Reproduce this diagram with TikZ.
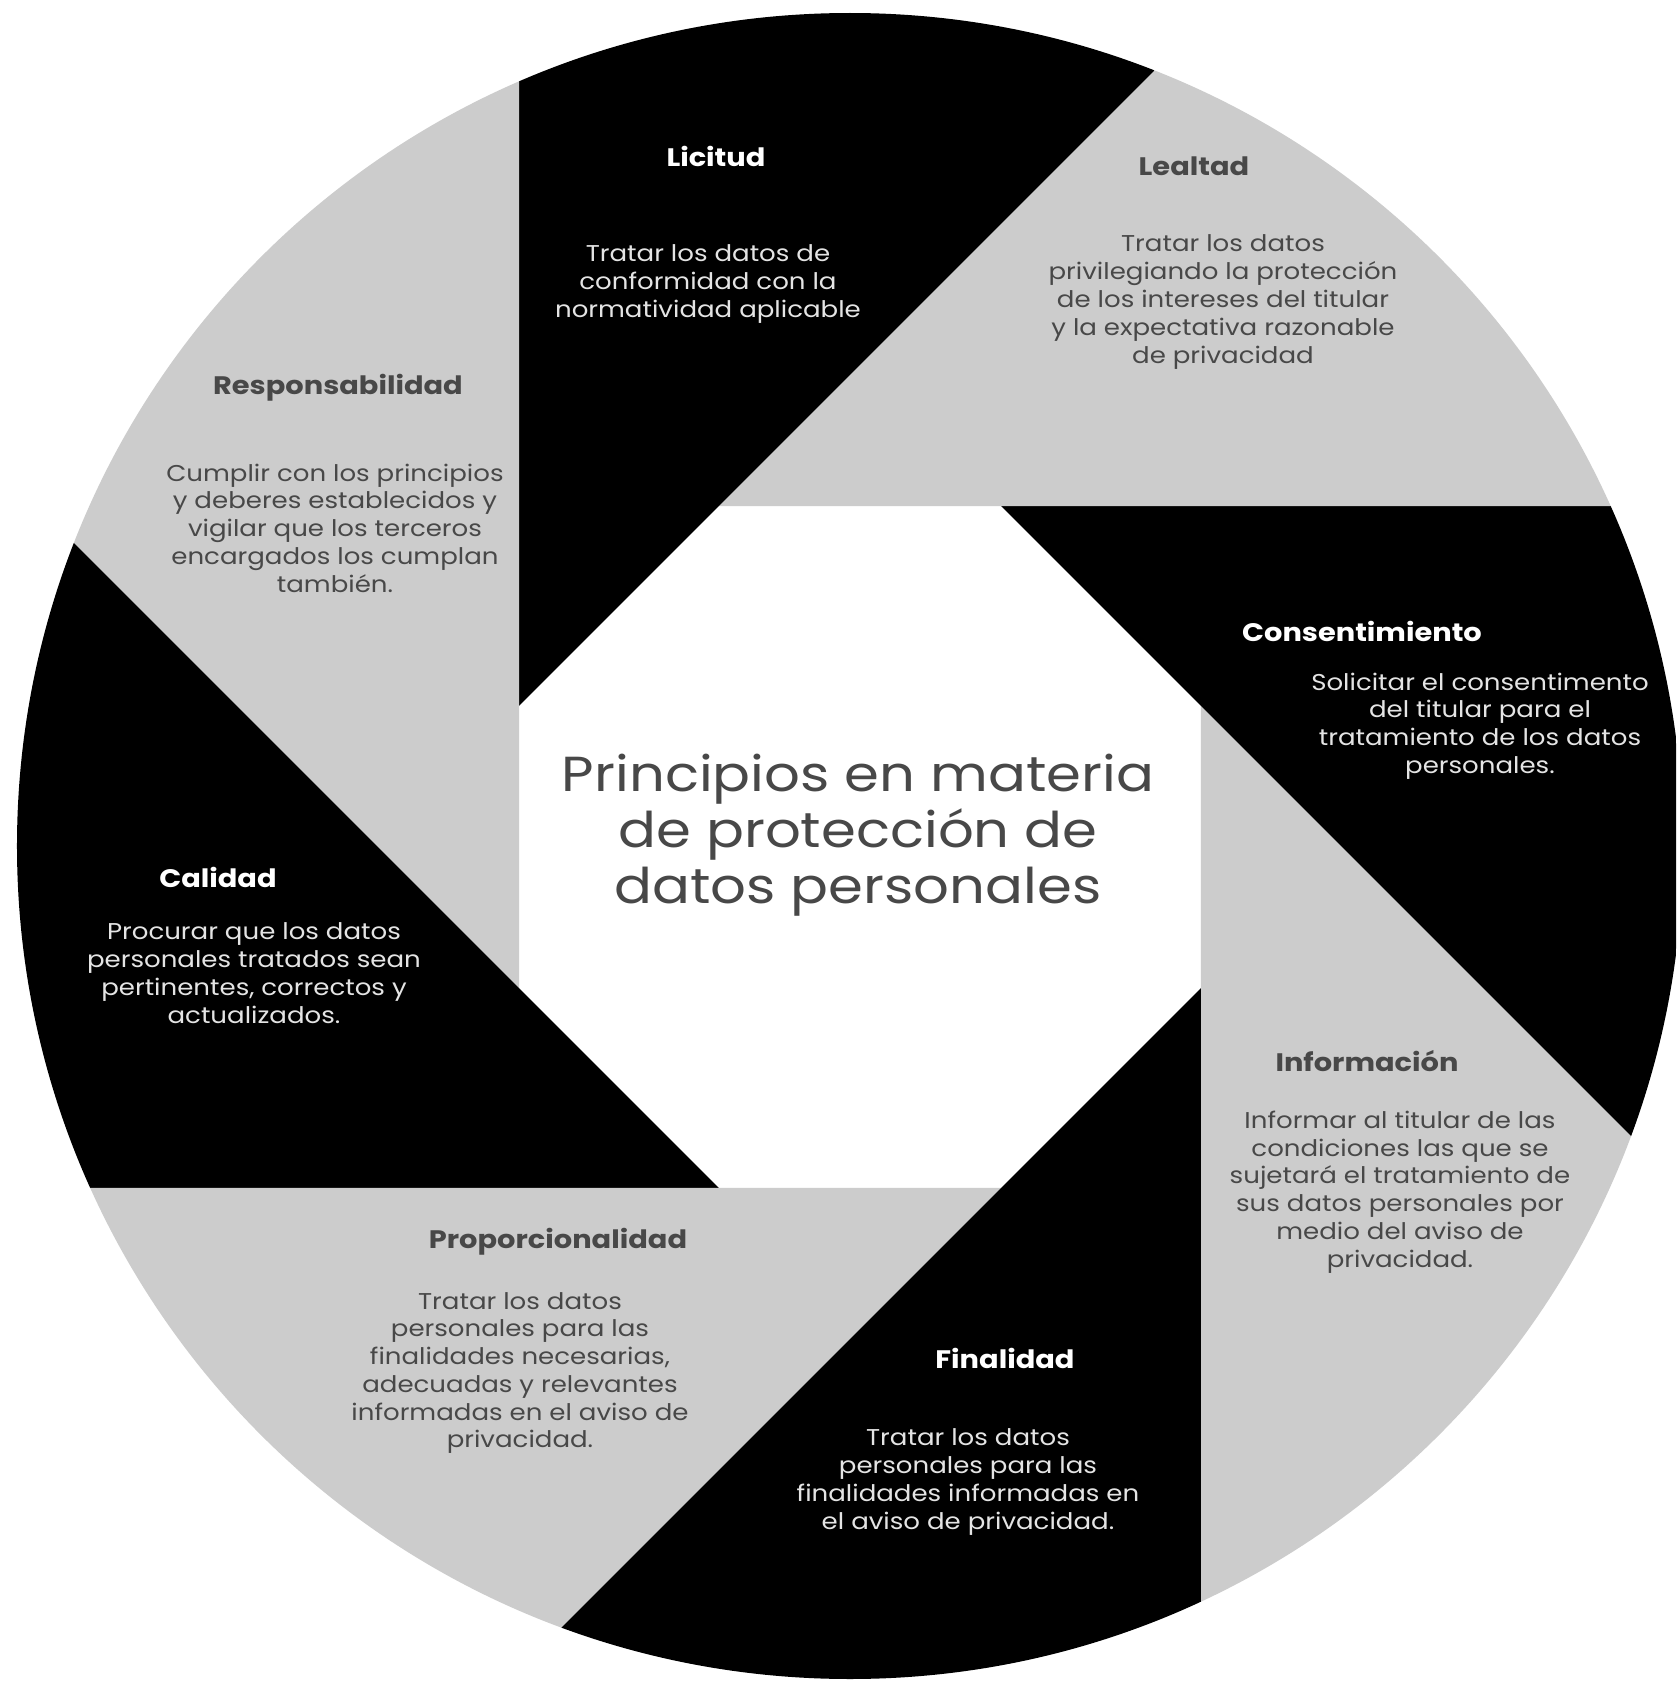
\documentclass[tikz,border=0pt]{standalone}
\usepackage{fontspec}
\setmainfont[FakeStretch=1.14]{Poppins}
\definecolor{bladegray}{RGB}{204,204,204}
\definecolor{inkdark}{RGB}{72,72,72}
\definecolor{inklight}{RGB}{228,228,228}
\tikzset{
  head/.style = {font=\bfseries\fontsize{7.2}{8}\selectfont, text=#1},
  body/.style = {align=center, font=\fontsize{6.5}{7.9}\selectfont, text=#1},
  centre/.style = {align=center, font=\fontsize{14}{15.9}\selectfont, text=inkdark}
}

\begin{document}
\begin{tikzpicture}
  \useasboundingbox (-8.60,-8.35) rectangle (8.16,8.47);
  \fill[white] (-8.60,-8.35) rectangle (8.16,8.47);
  % the eight blades of the aperture
  \begin{scope}
    \clip (-8.60,-8.35) rectangle (8.16,8.47);
    \clip (-0.10,0.01) circle (8.33);
    \foreach \k/\col in {0/bladegray,1/black,2/bladegray,3/black,
                         4/bladegray,5/black,6/bladegray,7/black}{
      \pgfmathsetmacro{\a}{22.5+45*\k}
      \fill[\col] (\a:3.691) -- +(\a-67.5:20) -- +(\a-112.5:20) -- cycle;
    }
  \end{scope}

  \node[centre] (centro) at (-0.02,0.12)
    {Principios en materia\\de protección de\\datos personales};

  \node[head=white] (licitud) at (-1.44,6.91) {Licitud};
  \node[body=inklight] (licitud-txt) at (-1.52,5.63)
    {Tratar los datos de\\conformidad con la\\normatividad aplicable};

  \node[head=inkdark] (lealtad) at (3.34,6.81) {Lealtad};
  \node[body=inkdark] (lealtad-txt) at (3.63,5.45)
    {Tratar los datos\\privilegiando la protección\\de los intereses del titular\\y la expectativa razonable\\de privacidad};

  \node[head=inkdark] (resp) at (-5.22,4.59) {Responsabilidad};
  \node[body=inkdark] (resp-txt) at (-5.25,3.19)
    {Cumplir con los principios\\y deberes establecidos y\\vigilar que los terceros\\encargados los cumplan\\también.};

  \node[head=white] (consent) at (5.02,2.16) {Consentimiento};
  \node[body=inklight] (consent-txt) at (6.20,1.21)
    {Solicitar el consentimento\\del titular para el\\tratamiento de los datos\\personales.};

  \node[head=white] (calidad) at (-6.42,-0.30) {Calidad};
  \node[body=inklight] (calidad-txt) at (-6.06,-1.26)
    {Procurar que los datos\\personales tratados sean\\pertinentes, correctos y\\actualizados.};

  \node[head=inkdark] (info) at (5.07,-2.14) {Información};
  \node[body=inkdark] (info-txt) at (5.40,-3.45)
    {Informar al titular de las\\condiciones las que se\\sujetará el tratamiento de\\sus datos personales por\\medio del aviso de\\privacidad.};

  \node[head=inkdark] (prop) at (-3.02,-3.95) {Proporcionalidad};
  \node[body=inkdark] (prop-txt) at (-3.40,-5.26)
    {Tratar los datos\\personales para las\\finalidades necesarias,\\adecuadas y relevantes\\informadas en el aviso de\\privacidad.};

  \node[head=white] (final) at (1.45,-5.11) {Finalidad};
  \node[body=inklight] (final-txt) at (1.08,-6.35)
    {Tratar los datos\\personales para las\\finalidades informadas en\\el aviso de privacidad.};
\end{tikzpicture}
\end{document}
